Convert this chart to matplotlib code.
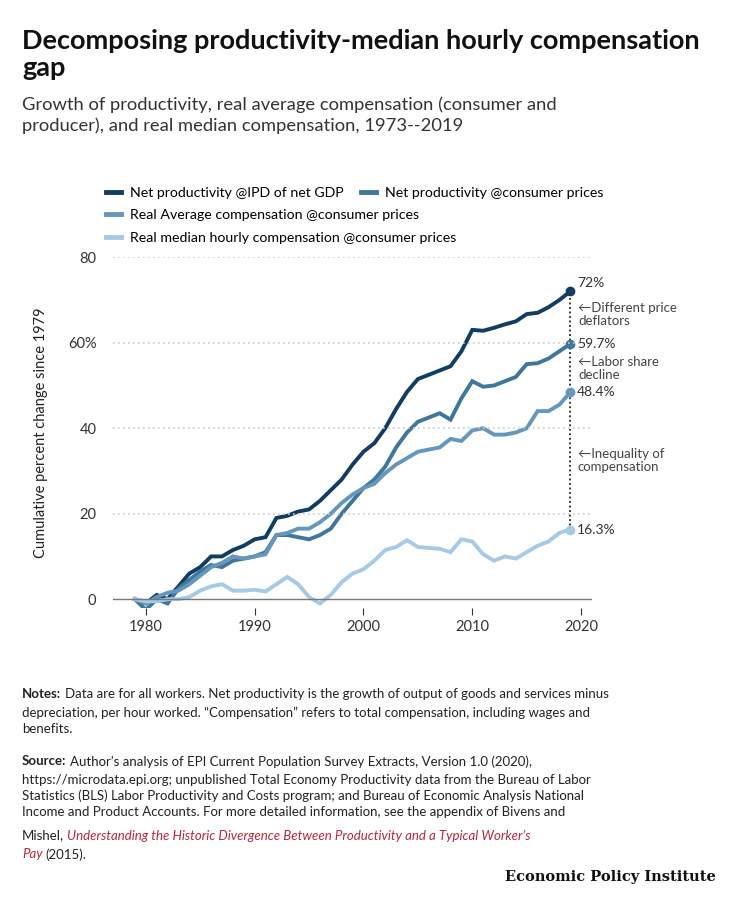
import numpy as np
import matplotlib.pyplot as plt
from matplotlib.lines import Line2D

years = list(range(1979, 2020))
prod_ipd = [0, -1, 1, 0, 3, 6, 7.5, 10, 10, 11.5, 12.5, 14, 14.5, 19, 19.5, 20.5, 21, 23, 25.5, 28,
            31.5, 34.5, 36.5, 40, 44.5, 48.5, 51.5, 52.5, 53.5, 54.5, 58, 63, 62.8, 63.5, 64.3, 65,
            66.7, 67, 68.3, 70, 72]
prod_cpi = [0, -2.5, 0, -1, 2.5, 4.5, 6.5, 8, 7.5, 9, 9.5, 10, 11, 15, 15, 14.5, 14, 15, 16.5, 20,
            23, 26, 28, 31, 35.5, 39, 41.5, 42.5, 43.5, 42, 47, 51, 49.7, 50, 51, 52, 55, 55.2, 56.3,
            58, 59.7]
avg_comp = [0, -1, 0.5, 1.5, 2, 3.5, 5.5, 7.5, 8.5, 10, 9.5, 10, 10.5, 15, 15.5, 16.5, 16.5, 18, 20,
            22.5, 24.5, 26, 27, 29.5, 31.5, 33, 34.5, 35, 35.5, 37.5, 37, 39.5, 40, 38.5, 38.5, 39,
            40, 44, 44, 45.5, 48.4]
median_comp = [0, -0.5, -0.5, 0, 0, 0.5, 2, 3, 3.5, 2, 2, 2.2, 1.8, 3.5, 5.2, 3.5, 0.5, -1, 1, 4,
               6, 7, 9, 11.5, 12.2, 13.8, 12.2, 12, 11.8, 11, 14, 13.5, 10.5, 9, 10, 9.5, 11, 12.5,
               13.5, 15.5, 16.3]
labels = ["Net productivity @IPD of net GDP", "Net productivity @consumer prices",
          "Real Average compensation @consumer prices", "Real median hourly compensation @consumer prices"]
end_labels = ["72%", "59.7%", "48.4%", "16.3%"]
colors = ["#123c60", "#3f7699", "#6596bb", "#a6c9e6"]

plt.rcParams['font.family'] = ['Lato', 'DejaVu Sans']
fig = plt.figure(figsize=(7.30, 9.01), dpi=100)
ax = fig.add_axes([0.155, 0.3255, 0.656, 0.389])

series = [prod_ipd, prod_cpi, avg_comp, median_comp]
for s, c, lab, el in zip(series, colors, labels, end_labels):
    ax.plot(years, s, color=c, lw=2.8, solid_joinstyle='miter')
    ax.plot(years[-1], s[-1], 'o', color=c, ms=6)
    ax.text(years[-1] + 0.6, s[-1] + (2 if el == "72%" else 0), el, va='center', fontsize=10, color='#333')

ax.plot([2019, 2019], [16.3, 72], ls=(0, (1, 1.5)), color='#222', lw=1.3, zorder=0)
for y, t in [(66.5, "←Different price\ndeflators"), (54, "←Labor share\ndecline"), (32.5, "←Inequality of\ncompensation")]:
    ax.text(2019.7, y, t, fontsize=9.5, color='#444', va='center', linespacing=1.1)

ax.axhline(0, color='#777', lw=1)
for y in [20, 40, 60, 80]:
    ax.axhline(y, color='#ccc', lw=1.2, ls=(0, (1, 2)))
ax.set_xlim(1977, 2021)
ax.set_ylim(-2, 80)
ax.set_yticks([0, 20, 40, 60, 80])
ax.set_yticklabels(['0', '20', '40', '60%', '80'])
ax.set_xticks([1980, 1990, 2000, 2010, 2020])
ax.tick_params(axis='y', length=0, labelsize=10.5, colors='#333', pad=12)
ax.tick_params(axis='x', length=5, labelsize=10.5, colors='#333')
for sp in ax.spines.values():
    sp.set_visible(False)
ax.set_ylabel("Cumulative percent change since 1979", fontsize=10.5, color='#222', labelpad=14)

def handle(c):
    return Line2D([], [], color=c, lw=3.5)

kw = dict(frameon=False, fontsize=10.2, handlelength=1.1, columnspacing=1.2, handletextpad=0.6,
          borderaxespad=0, borderpad=0)
fig.legend([handle(colors[0]), handle(colors[1])], labels[:2], loc='upper left',
           bbox_to_anchor=(0.145, 0.793), ncol=2, **kw)
fig.legend([handle(colors[2])], [labels[2]], loc='upper left', bbox_to_anchor=(0.145, 0.768), **kw)
fig.legend([handle(colors[3])], [labels[3]], loc='upper left', bbox_to_anchor=(0.145, 0.743), **kw)

fig.text(0.03, 0.968, "Decomposing productivity-median hourly compensation\ngap", fontsize=19.5,
         fontweight='bold', va='top', color='#111', linespacing=1.15)
fig.text(0.03, 0.893, "Growth of productivity, real average compensation (consumer and\n"
         "producer), and real median compensation, 1973--2019", fontsize=13.2, va='top',
         color='#333', linespacing=1.3)

fs = 9.5
renderer = fig.canvas.get_renderer()

def after(t, gap=4):
    # x (figure fraction) just right of a text
    bb = t.get_window_extent(renderer)
    return (bb.x1 + gap) / fig.bbox.width

t = fig.text(0.03, 0.236, "Notes:", fontsize=fs, fontweight='bold', va='top', color='#222')
fig.text(after(t), 0.236, "Data are for all workers. Net productivity is the growth of output of goods and services minus",
         fontsize=fs, va='top', color='#222')
fig.text(0.03, 0.2155, "depreciation, per hour worked. “Compensation” refers to total compensation, including wages and\n"
         "benefits.", fontsize=fs, va='top', color='#222', linespacing=1.4)
t = fig.text(0.03, 0.162, "Source:", fontsize=fs, fontweight='bold', va='top', color='#222')
fig.text(after(t), 0.162, "Author’s analysis of EPI Current Population Survey Extracts, Version 1.0 (2020),",
         fontsize=fs, va='top', color='#222')
fig.text(0.03, 0.1415, "https://microdata.epi.org; unpublished Total Economy Productivity data from the Bureau of Labor\n"
         "Statistics (BLS) Labor Productivity and Costs program; and Bureau of Economic Analysis National\n"
         "Income and Product Accounts. For more detailed information, see the appendix of Bivens and",
         fontsize=fs, va='top', color='#222', linespacing=1.4)
t = fig.text(0.03, 0.0795, "Mishel,", fontsize=fs, va='top', color='#222')
fig.text(after(t, 3), 0.0795, "Understanding the Historic Divergence Between Productivity and a Typical Worker’s",
         fontsize=fs, va='top', color='#b5283a', style='italic')
t = fig.text(0.03, 0.0585, "Pay", fontsize=fs, va='top', color='#b5283a', style='italic')
fig.text(after(t, 3), 0.0585, "(2015).", fontsize=fs, va='top', color='#222')
fig.text(0.98, 0.022, "Economic Policy Institute", fontsize=10.5, fontweight='bold', ha='right',
         family='DejaVu Serif', color='#111')

fig.savefig("out.png", dpi=100)
